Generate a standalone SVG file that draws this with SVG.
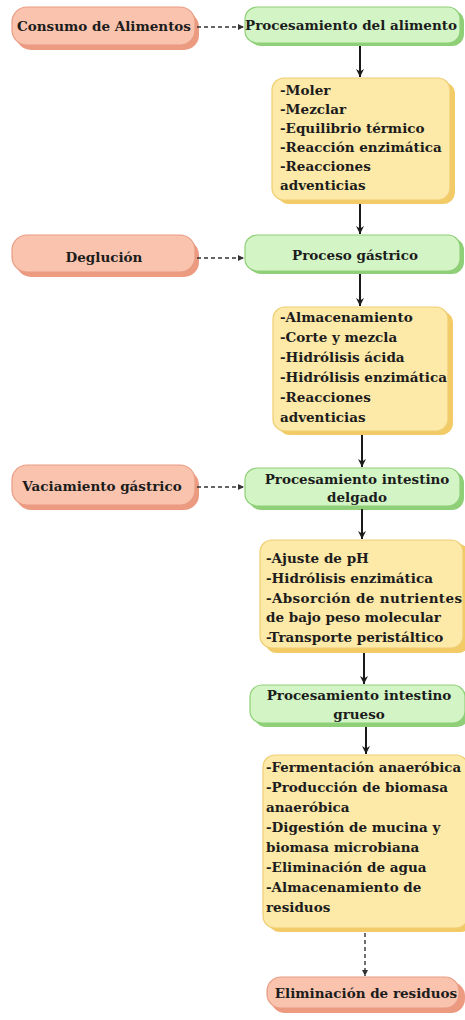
<svg xmlns="http://www.w3.org/2000/svg" width="465" height="1020" viewBox="0 0 465 1020">
<style>
text{font-family:"DejaVu Serif","Liberation Serif",serif;font-weight:bold;font-size:13.5px;fill:#1c1c1c}
.c{text-anchor:middle}
.rs{fill:#ec9a80}
.r{fill:#f9c3ae;stroke:#e99c84;stroke-width:1.2}
.gs{fill:#8fcf78}
.g{fill:#d3f5c6;stroke:#8fcf78;stroke-width:1.2}
.ys{fill:#f2cb66}
.y{fill:#fde9a8;stroke:#efcd72;stroke-width:1.2}
.solid{stroke:#1a1a1a;stroke-width:2;fill:none}
.dash{stroke:#333;stroke-width:1.4;fill:none;stroke-dasharray:4 3}
</style>
<defs>
<marker id="ah" markerWidth="10" markerHeight="10" refX="8" refY="5" orient="auto" markerUnits="userSpaceOnUse">
<path d="M0,1 L8,5 L0,9 L2.5,5 Z" fill="#1a1a1a"/>
</marker>
<marker id="dh" markerWidth="8" markerHeight="8" refX="6" refY="4" orient="auto" markerUnits="userSpaceOnUse">
<path d="M0,1 L6,4 L0,7 Z" fill="#333"/>
</marker>
</defs>

<g id="consumo">
<rect class="rs" x="16" y="12" width="183" height="38" rx="15"/>
<rect class="r" x="12" y="7" width="183" height="38" rx="15"/>
<text class="c" x="104" y="31">Consumo de Alimentos</text>
</g>
<g id="proc-alimento">
<rect class="gs" x="249" y="10" width="215" height="36" rx="12"/>
<rect class="g" x="245" y="7" width="215" height="36" rx="12"/>
<text class="c" x="351" y="30">Procesamiento del alimento</text>
</g>
<g id="lista-1">
<rect class="ys" x="277" y="82" width="178" height="122" rx="12"/>
<rect class="y" x="272" y="78" width="178" height="122" rx="12"/>
<text x="280" y="95">-Moler</text>
<text x="280" y="114">-Mezclar</text>
<text x="280" y="133">-Equilibrio térmico</text>
<text x="280" y="152">-Reacción enzimática</text>
<text x="280" y="171">-Reacciones</text>
<text x="280" y="190">adventicias</text>
</g>
<g id="deglucion">
<rect class="rs" x="16" y="240" width="183" height="37" rx="15"/>
<rect class="r" x="12" y="235" width="183" height="37" rx="15"/>
<text class="c" x="104" y="262">Deglución</text>
</g>
<g id="proc-gastrico">
<rect class="gs" x="249" y="238" width="215" height="36" rx="12"/>
<rect class="g" x="245" y="235" width="215" height="36" rx="12"/>
<text class="c" x="355" y="260">Proceso gástrico</text>
</g>
<g id="lista-2">
<rect class="ys" x="278" y="311" width="175" height="124" rx="12"/>
<rect class="y" x="273" y="307" width="175" height="124" rx="12"/>
<text x="280" y="322">-Almacenamiento</text>
<text x="280" y="342">-Corte y mezcla</text>
<text x="280" y="362">-Hidrólisis ácida</text>
<text x="280" y="382">-Hidrólisis enzimática</text>
<text x="280" y="402">-Reacciones</text>
<text x="280" y="422">adventicias</text>
</g>
<g id="vaciamiento">
<rect class="rs" x="16" y="470" width="183" height="40" rx="15"/>
<rect class="r" x="12" y="465" width="183" height="40" rx="15"/>
<text class="c" x="102" y="491">Vaciamiento gástrico</text>
</g>
<g id="proc-delgado">
<rect class="gs" x="249" y="471" width="215" height="39" rx="12"/>
<rect class="g" x="245" y="468" width="215" height="38" rx="12"/>
<text class="c" x="357" y="484">Procesamiento intestino</text>
<text class="c" x="357" y="502">delgado</text>
</g>
<g id="lista-3">
<rect class="ys" x="265" y="544" width="205" height="109" rx="12"/>
<rect class="y" x="260" y="540" width="203" height="108" rx="12"/>
<text x="266" y="563">-Ajuste de pH</text>
<text x="266" y="583">-Hidrólisis enzimática</text>
<text x="266" y="603" textLength="196" lengthAdjust="spacing">-Absorción de nutrientes</text>
<text x="266" y="622">de bajo peso molecular</text>
<text x="266" y="642">-Transporte peristáltico</text>
</g>
<g id="proc-grueso">
<rect class="gs" x="254" y="689" width="215" height="38" rx="12"/>
<rect class="g" x="250" y="685" width="215" height="38" rx="12"/>
<text class="c" x="359" y="700">Procesamiento intestino</text>
<text class="c" x="359" y="719">grueso</text>
</g>
<g id="lista-4">
<rect class="ys" x="268" y="759" width="205" height="173" rx="12"/>
<rect class="y" x="263" y="755" width="205" height="173" rx="12"/>
<text x="266" y="772" textLength="195" lengthAdjust="spacingAndGlyphs">-Fermentación anaeróbica</text>
<text x="266" y="792">-Producción de biomasa</text>
<text x="266" y="812">anaeróbica</text>
<text x="266" y="832">-Digestión de mucina y</text>
<text x="266" y="852">biomasa microbiana</text>
<text x="266" y="872">-Eliminación de agua</text>
<text x="266" y="892">-Almacenamiento de</text>
<text x="266" y="912">residuos</text>
</g>
<g id="eliminacion">
<rect class="rs" x="271" y="982" width="194" height="31" rx="14"/>
<rect class="r" x="267" y="977" width="192" height="31" rx="14"/>
<text class="c" x="366" y="998">Eliminación de residuos</text>
</g>

<g id="connectors">
<line class="dash" x1="197" y1="27" x2="244" y2="27" marker-end="url(#dh)"/>
<line class="dash" x1="197" y1="258" x2="244" y2="258" marker-end="url(#dh)"/>
<line class="dash" x1="197" y1="487" x2="244" y2="487" marker-end="url(#dh)"/>
<line class="solid" x1="360" y1="46" x2="360" y2="77" marker-end="url(#ah)"/>
<line class="solid" x1="360" y1="204" x2="360" y2="234" marker-end="url(#ah)"/>
<line class="solid" x1="360" y1="274" x2="360" y2="306" marker-end="url(#ah)"/>
<line class="solid" x1="362" y1="435" x2="362" y2="467" marker-end="url(#ah)"/>
<line class="solid" x1="362" y1="509" x2="362" y2="539" marker-end="url(#ah)"/>
<line class="solid" x1="364" y1="653" x2="364" y2="684" marker-end="url(#ah)"/>
<line class="solid" x1="366" y1="727" x2="366" y2="754" marker-end="url(#ah)"/>
<line class="dash" x1="365" y1="933" x2="365" y2="976" marker-end="url(#dh)"/>
</g>
</svg>
